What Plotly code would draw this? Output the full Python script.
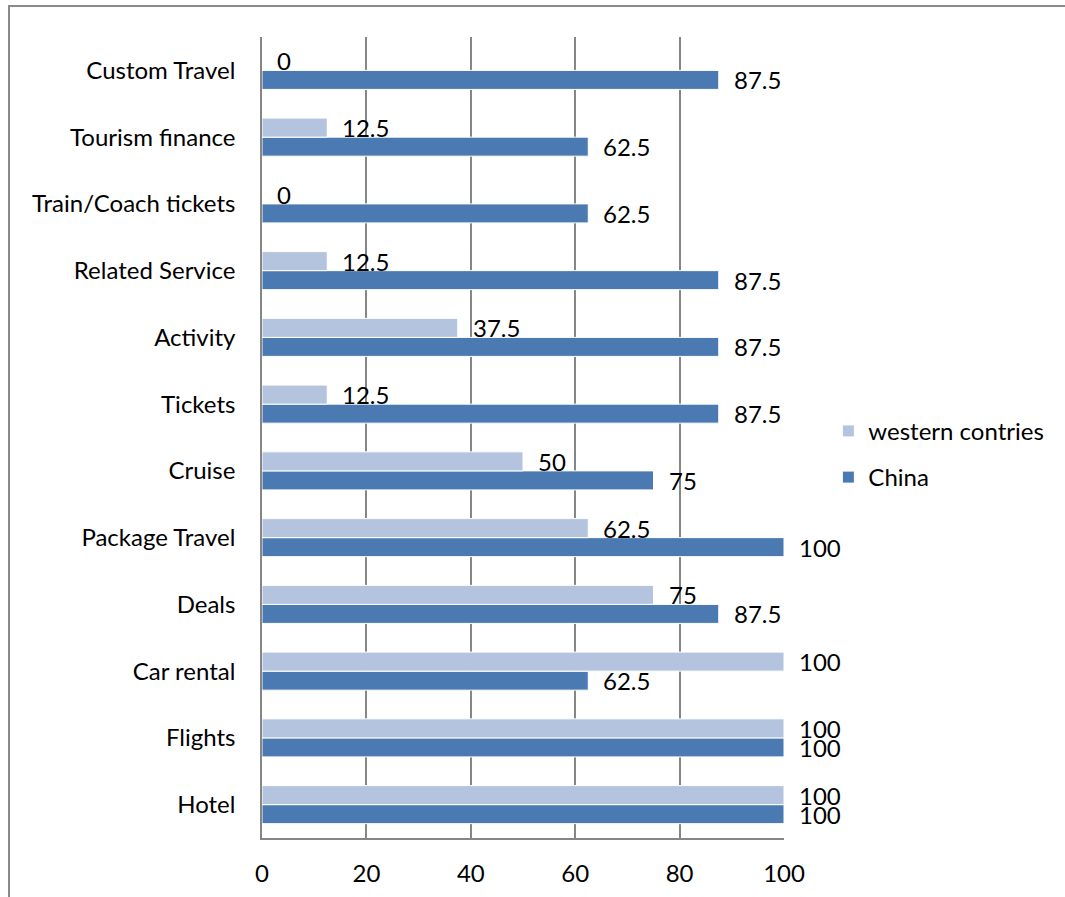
import plotly.graph_objects as go

categories = ["Hotel", "Flights", "Car rental", "Deals", "Package Travel", "Cruise",
              "Tickets", "Activity", "Related Service", "Train/Coach tickets",
              "Tourism finance", "Custom Travel"]
western = [100, 100, 100, 75, 62.5, 50, 12.5, 37.5, 12.5, 0, 12.5, 0]
china = [100, 100, 62.5, 87.5, 100, 75, 87.5, 87.5, 87.5, 62.5, 62.5, 87.5]
x_ticks = [0, 20, 40, 60, 80, 100]

FONT = "Lato"
FS = 24
C_CHINA = "#4A7AB1"
C_WEST = "#B4C4DF"

fig = go.Figure()
fig.add_trace(go.Bar(y=categories, x=china, orientation="h", name="China",
                     marker=dict(color=C_CHINA, line=dict(color="white", width=1)),
                     legendrank=2))
fig.add_trace(go.Bar(y=categories, x=western, orientation="h", name="western contries",
                     marker=dict(color=C_WEST, line=dict(color="white", width=1)),
                     legendrank=1))

def fmt(v):
    return str(int(v)) if float(v).is_integer() else str(v)

annotations = []
for cat, w, c in zip(categories, western, china):
    annotations.append(dict(x=w, y=cat, text=fmt(w), showarrow=False, xanchor="left",
                            xshift=13, yshift=9.5, font=dict(family=FONT, size=FS, color="black")))
    annotations.append(dict(x=c, y=cat, text=fmt(c), showarrow=False, xanchor="left",
                            xshift=13, yshift=-9.5, font=dict(family=FONT, size=FS, color="black")))

fig.update_layout(
    width=1065, height=897,
    margin=dict(l=262, r=281, t=37, b=59, autoexpand=False),
    paper_bgcolor="white", plot_bgcolor="white",
    barmode="group", bargap=0.43, bargroupgap=0,
    font=dict(family=FONT, size=FS, color="black"),
    annotations=annotations,
    showlegend=True,
    legend=dict(x=1.085, y=0.479, xanchor="left", yanchor="middle",
                font=dict(family=FONT, size=FS, color="black"),
                tracegroupgap=12, itemwidth=30),
    xaxis=dict(range=[0, 100], tickvals=x_ticks, showgrid=True, gridcolor="#868686",
               gridwidth=1.5, showline=True, linecolor="#868686", linewidth=1.5,
               zeroline=False, ticks="", ticklabelstandoff=13, fixedrange=True,
               automargin=False),
    yaxis=dict(showline=True, linecolor="#868686", linewidth=1.5, ticks="",
               ticklabelstandoff=20, showgrid=False, fixedrange=True, automargin=False),
    shapes=[dict(type="rect", xref="paper", yref="paper",
                 x0=-253/522, x1=(1075-262)/522, y0=-0.2, y1=(838-6)/801,
                 line=dict(color="#8A8A8A", width=2), layer="below")],
)
for tr in fig.data:
    tr.legendgroup = tr.name
fig.write_html("out.html")
